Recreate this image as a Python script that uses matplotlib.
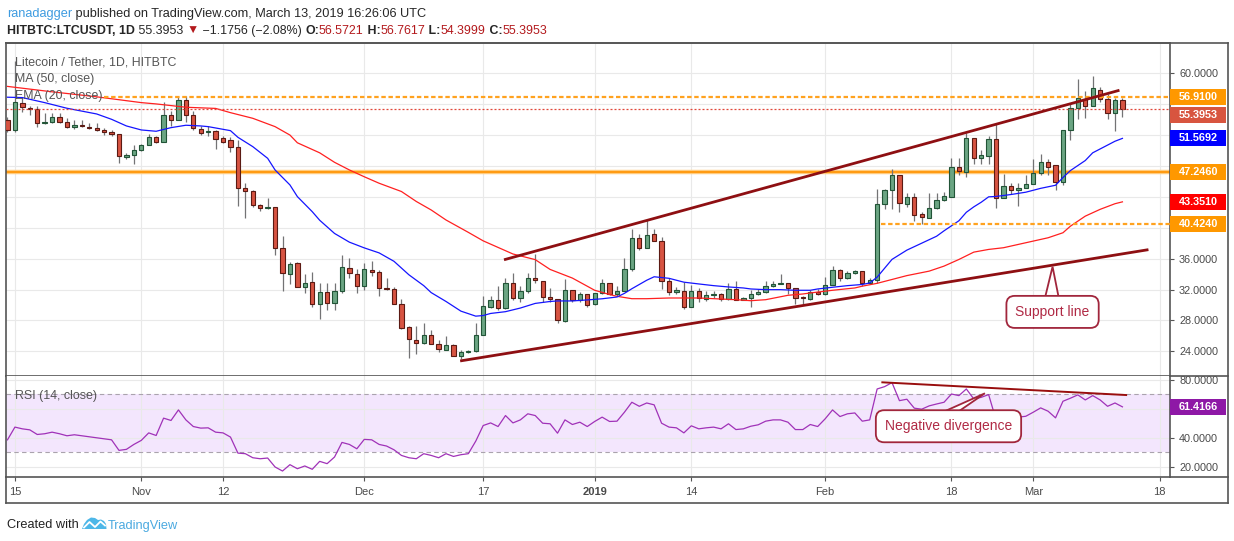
import numpy as np
import pandas as pd
import matplotlib
matplotlib.use("Agg")
import matplotlib.pyplot as plt
import matplotlib.dates as mdates
from matplotlib.patches import Rectangle, Polygon
from matplotlib.lines import Line2D

# ---------------------------------------------------------------- data
start_date = "2018-10-14"

opens = [54.0, 52.7, 56.1, 55.55, 55.35, 53.5, 53.65, 54.3, 53.65, 53.1,
         53.25, 53.1, 52.9, 52.6, 52.4, 52.15, 49.1, 49.4, 50.0, 50.7,
         51.75, 51.1, 54.6, 53.9, 56.5, 54.55, 52.8, 52.35, 52.5, 51.6,
         51.35, 50.4, 45.15, 44.7, 42.9, 42.5, 42.7, 37.35, 34.0, 35.4,
         32.3, 32.96, 30.09, 31.65, 30.2, 31.83, 34.8, 34.0, 32.4, 34.48,
         34.26, 32.17, 32.04, 30.09, 27.17, 25.52, 25.13, 26.17, 25.0, 24.22,
         24.87, 23.4, 23.9, 24.1, 26.17, 29.7, 30.65, 29.57, 32.9, 30.87,
         31.83, 33.48, 33.13, 31.0, 30.74, 27.96, 31.96, 30.65, 31.43, 30.1,
         31.5, 32.8, 31.43, 31.85, 34.7, 38.7, 37.4, 39.13, 38.27, 33.15,
         31.72, 31.77, 29.68, 31.85, 30.77, 31.25, 31.42, 30.77, 32.07, 30.68,
         30.9, 31.42, 31.72, 32.46, 32.72, 32.85, 32.2, 30.98, 30.8, 31.68,
         31.42, 32.55, 34.5, 33.5, 34.2, 34.45, 32.85, 33.2, 43.1, 44.84,
         46.88, 43.03, 43.98, 41.73, 41.3, 42.6, 43.55, 43.98, 47.91, 47.27,
         51.59, 49.08, 49.3, 51.46, 43.9, 45.4, 44.89, 45.1, 45.7, 47.14,
         48.56, 48.09, 45.97, 52.71, 55.44, 56.73, 55.7, 57.86, 56.73, 54.92,
         56.5721]
highs = [54.4, 61.6, 56.9, 55.8, 55.7, 54.8, 54.8, 54.8, 54.2, 53.95,
         54.0, 53.5, 53.6, 52.9, 52.6, 52.15, 49.65, 50.7, 50.9, 52.15,
         51.9, 56.25, 55.15, 57.05, 57.05, 55.1, 53.2, 53.2, 52.6, 51.85,
         51.7, 51.35, 45.75, 44.9, 43.05, 43.9, 42.7, 38.95, 35.6, 35.6,
         34.0, 34.26, 32.9, 32.9, 32.9, 36.5, 36.1, 34.65, 35.43, 35.65,
         34.48, 33.48, 32.3, 30.74, 27.26, 27.26, 27.6, 26.74, 25.43, 25.96,
         25.0, 24.22, 24.2, 27.6, 31.17, 31.17, 32.4, 33.48, 34.13, 32.4,
         34.2, 36.6, 33.13, 32.2, 30.74, 33.35, 31.96, 31.74, 31.43, 31.5,
         33.3, 32.8, 32.4, 36.1, 39.87, 39.13, 41.0, 39.87, 38.83, 33.5,
         32.33, 32.94, 32.6, 32.2, 31.77, 31.77, 31.55, 32.85, 33.15, 31.0,
         31.98, 32.07, 33.07, 33.07, 34.07, 32.85, 32.2, 31.1, 31.98, 32.07,
         33.63, 35.0, 34.7, 34.45, 34.5, 34.45, 33.45, 44.97, 44.97, 47.57,
         46.88, 44.5, 44.5, 42.1, 44.54, 44.54, 44.6, 49.08, 49.08, 52.32,
         51.59, 50.03, 51.89, 53.54, 46.9, 45.75, 45.75, 46.8, 48.95, 49.51,
         48.86, 48.09, 52.71, 56.2, 59.24, 57.73, 59.68, 58.16, 57.3, 56.76,
         56.7617]
lows = [52.45, 52.45, 54.95, 54.6, 53.1, 53.4, 53.5, 53.5, 52.96, 52.75,
        53.05, 52.8, 52.5, 52.0, 51.85, 48.35, 48.95, 48.2, 49.9, 50.7,
        50.95, 51.1, 53.2, 53.9, 53.75, 52.65, 51.95, 51.9, 50.15, 50.95,
        49.85, 42.85, 41.2, 42.7, 42.2, 42.4, 36.5, 31.85, 32.7, 32.3,
        31.5, 29.7, 28.13, 29.35, 29.4, 31.6, 33.5, 31.5, 31.96, 33.8,
        31.1, 32.0, 30.09, 26.95, 23.17, 23.7, 25.0, 25.0, 23.9, 24.13,
        23.4, 23.04, 23.8, 23.95, 26.17, 29.57, 29.35, 29.43, 30.65, 30.43,
        31.6, 32.9, 30.43, 30.43, 27.7, 27.83, 30.43, 30.43, 29.7, 29.96,
        31.4, 31.3, 31.2, 31.76, 34.45, 37.1, 37.4, 38.27, 32.07, 31.24,
        31.4, 29.5, 29.68, 30.38, 30.55, 30.9, 30.55, 30.68, 30.68, 30.6,
        29.73, 31.33, 31.55, 32.33, 32.72, 31.46, 30.12, 30.12, 30.6, 31.33,
        31.33, 32.55, 33.07, 33.4, 34.07, 32.4, 32.72, 32.85, 42.38, 42.38,
        42.03, 42.65, 40.87, 40.5, 41.3, 42.38, 43.5, 43.98, 46.8, 46.57,
        48.22, 48.22, 48.22, 42.6, 43.9, 44.33, 42.8, 45.1, 45.7, 46.8,
        46.8, 44.89, 45.54, 51.37, 54.05, 54.27, 55.7, 56.3, 54.14, 52.54,
        54.3999]
closes = [52.7, 56.24, 55.6, 55.35, 53.5, 53.7, 54.3, 53.65, 53.1, 53.25,
          53.12, 52.9, 52.6, 52.35, 52.15, 49.25, 49.4, 50.0, 50.7, 51.7,
          51.1, 54.6, 53.9, 56.5, 54.55, 52.9, 52.3, 52.5, 51.45, 51.15,
          50.4, 45.1, 44.7, 42.9, 42.5, 42.7, 37.35, 34.1, 35.3, 32.3,
          32.83, 30.09, 31.65, 30.2, 31.83, 34.9, 34.13, 32.4, 34.65, 34.26,
          32.17, 32.04, 30.09, 27.04, 25.65, 25.13, 26.17, 25.0, 24.35, 24.87,
          23.4, 23.91, 24.1, 26.17, 29.87, 30.65, 29.57, 32.9, 30.87, 31.83,
          33.48, 33.17, 31.0, 30.74, 28.04, 31.96, 30.65, 31.43, 30.0, 31.5,
          32.8, 31.43, 31.85, 34.7, 38.7, 37.4, 39.0, 38.27, 33.15, 31.68,
          31.9, 29.68, 31.85, 30.9, 31.24, 31.42, 30.77, 32.07, 30.68, 30.9,
          31.42, 31.72, 32.46, 32.76, 32.85, 32.2, 30.9, 30.86, 31.68, 31.42,
          32.55, 34.5, 33.5, 34.15, 34.37, 32.85, 33.28, 43.1, 44.84, 46.88,
          43.16, 43.98, 41.64, 41.38, 42.6, 43.55, 44.07, 47.91, 47.35, 51.59,
          49.08, 49.38, 51.46, 43.9, 45.4, 44.89, 45.19, 45.7, 47.14, 48.56,
          47.91, 45.97, 52.71, 55.44, 56.86, 55.7, 58.03, 56.73, 54.92, 56.5709,
          55.3953]

rsi = [38.6, 47.4, 46.2, 45.5, 42.3, 42.8, 43.9, 42.8, 41.4, 42.1,
       41.4, 40.7, 40.0, 39.3, 38.6, 31.3, 32.0, 35.4, 38.2, 43.4,
       41.6, 53.6, 52.0, 59.3, 52.4, 47.8, 46.7, 46.9, 43.9, 43.4,
       40.5, 29.4, 29.0, 26.2, 25.5, 26.0, 19.8, 17.0, 21.4, 18.6,
       20.5, 18.2, 23.7, 22.1, 26.7, 36.8, 35.4, 32.4, 38.9, 38.6,
       35.4, 34.3, 31.7, 27.8, 26.2, 25.5, 29.0, 27.8, 26.2, 29.0,
       27.1, 28.3, 29.0, 37.7, 48.5, 50.3, 47.8, 55.4, 50.3, 52.4,
       56.6, 55.4, 50.1, 49.7, 43.2, 52.4, 49.2, 50.8, 47.8, 51.3,
       54.3, 51.3, 51.5, 57.7, 64.6, 61.8, 64.1, 62.8, 50.1, 47.4,
       46.9, 43.4, 48.3, 46.2, 46.9, 47.4, 46.2, 49.7, 45.7, 46.2,
       48.0, 49.0, 51.5, 52.4, 52.4, 50.8, 45.7, 45.7, 49.2, 47.8,
       53.1, 59.3, 54.7, 56.6, 57.2, 51.5, 52.4, 73.8, 75.4, 78.2,
       65.7, 66.7, 60.5, 59.8, 62.1, 63.4, 64.6, 70.3, 69.2, 73.8,
       66.9, 68.0, 69.9, 52.4, 54.9, 53.8, 54.3, 54.9, 57.7, 60.7,
       58.4, 53.8, 65.3, 67.4, 69.7, 66.2, 69.2, 66.2, 61.8, 64.1,
       61.4166]

# moving averages (day offset from start_date, value)
ema_days = [0, 2, 5, 8, 12, 14, 16, 18, 20, 22, 24, 26, 27, 30, 31, 33, 35, 36, 38, 39,
            41, 42, 44, 46, 48, 50, 52, 54, 56, 57, 59, 61, 63, 64, 65, 67, 69, 71, 73, 74,
            76, 78, 80, 82, 83, 84, 86, 87, 89, 91, 93, 95, 97, 99, 100, 102, 104, 106, 108, 109,
            111, 113, 115, 116, 117, 119, 121, 123, 125, 126, 128, 129, 130, 131, 132, 133, 135, 137, 139, 141,
            142, 143, 145, 146, 148, 149, 150]
ema_vals = [56.9, 56.85, 56.2, 55.47, 54.73, 54.04, 53.18, 52.66, 52.49, 52.96,
            53.27, 53.18, 53.09, 52.57, 51.71, 50.5, 48.99, 47.48, 45.54, 44.03,
            42.08, 40.97, 39.26, 38.13, 37.39, 36.74, 35.65, 33.91, 32.5, 31.6,
            30.45, 29.2, 28.55, 28.63, 28.9, 29.13, 29.6, 30.2, 30.45, 30.52,
            30.52, 30.65, 30.8, 31.03, 31.5, 32.1, 33.2, 33.65, 33.45, 32.95,
            32.72, 32.5, 32.33, 32.2, 32.07, 31.98, 31.98, 31.9, 31.9, 32.07,
            32.29, 32.5, 32.65, 32.85, 33.6, 35.9, 37.1, 38.0, 38.9, 39.6,
            40.9, 42.0, 42.7, 43.3, 44.0, 44.05, 44.3, 44.6, 45.1, 45.5,
            46.5, 47.4, 48.7, 49.7, 50.7, 51.2, 51.5692]
ma_days = [0, 6, 12, 18, 20, 24, 28, 30, 33, 36, 38, 39, 42, 44, 46, 48, 50, 53, 55, 57,
           59, 62, 64, 68, 71, 73, 76, 79, 81, 82, 84, 86, 89, 93, 98, 100, 102, 105, 107, 108,
           111, 114, 115, 117, 119, 121, 124, 126, 128, 130, 132, 134, 136, 138, 140, 142, 143, 145, 147, 149,
           150]
ma_vals = [58.3, 57.6, 56.95, 56.2, 56.03, 55.6, 55.45, 54.9, 54.17, 53.09,
           52.0, 51.0, 49.7, 48.47, 47.48, 46.6, 45.76, 44.69, 43.4, 42.3,
           41.0, 39.4, 38.3, 36.6, 35.87, 34.6, 33.48, 31.9, 31.35, 31.12,
           30.81, 30.81, 30.9, 30.9, 30.68, 30.55, 30.68, 31.25, 31.42, 31.55,
           31.9, 32.2, 32.43, 32.8, 33.3, 33.8, 34.38, 35.03, 35.89, 36.84,
           37.19, 37.41, 37.84, 38.27, 38.7, 39.35, 40.2, 41.5, 42.38, 43.11,
           43.351]

# drawn horizontal levels
resist_level = 56.91
mid_level = 47.246
support_level = 40.424
resist_from_day = 13
support_from_day = 117.5

# drawn trendlines (day offset, price)
channel_days = [66.8, 149.6]
channel_prices = [35.85, 57.8]
support_days = [60.9, 153.5]
support_prices = [22.75, 37.16]
rsi_div_days = [117.7, 150.5]
rsi_div_vals = [78.4, 69.6]

# callout pointers (day offset, value): base-left, tip, base-right
support_ptr_days = [139.5, 140.6, 141.5]
support_ptr_vals = [30.6, 34.96, 30.6]
diverg_ptr_days = [125.5, 131.5, 127.6]
diverg_ptr_vals = [57.0, 70.8, 57.0]

tick_dates = ["2018-10-15", "2018-11-01", "2018-11-12", "2018-12-01", "2018-12-17",
              "2019-01-01", "2019-01-14", "2019-02-01", "2019-02-18", "2019-03-01", "2019-03-18"]
tick_labels = ["15", "Nov", "12", "Dec", "17", "2019", "14", "Feb", "18", "Mar", "18"]
price_ticks = [24, 28, 32, 36, 40, 44, 48, 52, 56, 60]
price_tick_shown = [24, 28, 32, 36, 60]
rsi_ticks = [20, 40, 60, 80]
rsi_tick_shown = [20, 40, 80]

# ---------------------------------------------------------------- style
plt.rcParams["font.family"] = ["Liberation Sans", "DejaVu Sans"]
W, H = 1234, 541
fig = plt.figure(figsize=(W / 100, H / 100), dpi=100)
fig.patch.set_facecolor("white")

def fx(px):
    return px / W

def fy(py):
    return 1 - py / H

L, R = 6, 1170
T1, B1, B2, FB, FR = 43, 376, 477.3, 503.3, 1228
FRAME = "#555555"
GRID = "#e9e9e9"

ax = fig.add_axes([fx(L), fy(B1), (R - L) / W, (B1 - T1) / H])
ax2 = fig.add_axes([fx(L), fy(B2), (R - L) / W, (B2 - B1) / H], sharex=ax)

base = mdates.date2num(pd.Timestamp(start_date))
n = len(closes)
xd = base + np.arange(n)

o, h, l, c = (np.array(v, dtype=float) for v in (opens, highs, lows, closes))
up = c >= o
body_lo = np.minimum(o, c)
body_h = np.maximum(np.abs(c - o), 0.07)

ax.vlines(xd, l, h, color="#737375", lw=0.9, zorder=3)
ax.bar(xd[up], body_h[up], bottom=body_lo[up], width=0.58, color="#6ba583",
       edgecolor="#225437", linewidth=0.8, zorder=4)
ax.bar(xd[~up], body_h[~up], bottom=body_lo[~up], width=0.58, color="#d75442",
       edgecolor="#5b1a13", linewidth=0.8, zorder=4)

ax.plot(base + np.array(ma_days), ma_vals, color="#ff2020", lw=0.9, zorder=5)
ax.plot(base + np.array(ema_days), ema_vals, color="#1515ff", lw=0.9, zorder=5)

xmin, xmax = base - 0.2, base + 156.4
ax.set_xlim(xmin, xmax)
ax.set_ylim(20.8, 63.92)

# levels
ax.plot([base + resist_from_day, xmax], [resist_level] * 2, color="#ffa21f",
        lw=1.6, ls=(0, (2.0, 1.2)), zorder=6)
ax.axhline(closes[-1], color="#e0473a", lw=0.9, ls=(0, (1.6, 1.6)), zorder=6)
ax.axhline(mid_level, color="#ffcc80", lw=3.2, zorder=2)
ax.axhline(mid_level, color="#ff9a10", lw=1.4, zorder=2)
ax.plot([base + support_from_day, xmax], [support_level] * 2, color="#ffa21f",
        lw=1.6, ls=(0, (2.0, 1.2)), zorder=6)

# trendlines
ax.plot(base + np.array(channel_days), channel_prices, color="#8e0f12", lw=2.0,
        solid_capstyle="butt", zorder=7)
ax.plot(base + np.array(support_days), support_prices, color="#8e0f12", lw=2.0,
        solid_capstyle="butt", zorder=7)

# grid / ticks main
ax.set_yticks(price_ticks)
ax.set_yticklabels([f"{v:.4f}" if v in price_tick_shown else "" for v in price_ticks])
ax.yaxis.tick_right()
ax.tick_params(axis="y", direction="out", length=3, width=0.8, color=FRAME,
               labelsize=7.8, labelcolor="#4a4a4a", pad=3.5)
ax.tick_params(axis="x", length=0, labelbottom=False)
tick_nums = [mdates.date2num(pd.Timestamp(d)) for d in tick_dates]
ax.set_xticks(tick_nums)
ax.grid(True, color=GRID, lw=0.8, zorder=0)
ax.set_axisbelow(True)
for s in ax.spines.values():
    s.set_color(FRAME)
    s.set_linewidth(1.2)

# ---------------------------------------------------------------- RSI
ax2.axhspan(30, 70, color="#f3e6fd", zorder=0.5, lw=0)
ax2.axhline(70, color="#aaa3ad", lw=0.8, ls=(0, (4, 3)), zorder=1)
ax2.axhline(30, color="#aaa3ad", lw=0.8, ls=(0, (4, 3)), zorder=1)
ax2.plot(xd, rsi, color="#a032b8", lw=0.9, zorder=4)
ax2.plot(base + np.array(rsi_div_days), rsi_div_vals, color="#990e0e", lw=1.4, zorder=5)
ax2.set_ylim(12.66, 82.77)
ax2.set_yticks(rsi_ticks)
ax2.set_yticklabels([f"{v:.4f}" if v in rsi_tick_shown else "" for v in rsi_ticks])
ax2.yaxis.tick_right()
ax2.tick_params(axis="y", direction="out", length=3, width=0.8, color=FRAME,
                labelsize=7.8, labelcolor="#4a4a4a", pad=3.5)
ax2.set_xticks(tick_nums)
ax2.set_xticklabels(tick_labels)
ax2.tick_params(axis="x", direction="out", length=3, width=0.8, color=FRAME,
                labelsize=8, labelcolor="#4a4a4a", pad=4)
ax2.get_xticklabels()[5].set_fontweight("bold")
ax2.grid(True, color=GRID, lw=0.8, zorder=0)
ax2.set_axisbelow(True)
for s in ax2.spines.values():
    s.set_color(FRAME)
    s.set_linewidth(1.2)
ax2.spines["top"].set_visible(False)

# ---------------------------------------------------------------- callouts
note_col = "#b02a45"
edge_col = "#a1263c"
box = dict(boxstyle="round,pad=0.65,rounding_size=0.6", fc="white", ec=edge_col, lw=1.3)
ax.add_patch(Polygon(list(zip(base + np.array(support_ptr_days), support_ptr_vals)), closed=True,
                     fc="white", ec=edge_col, lw=1.3, zorder=11, joinstyle="miter"))
ax.text(base + 140.6, 29.1, "Support line", ha="center", va="center", fontsize=10,
        color=note_col, zorder=12, bbox=box)
ax2.add_patch(Polygon(list(zip(base + np.array(diverg_ptr_days), diverg_ptr_vals)), closed=True,
                      fc="white", ec=edge_col, lw=1.3, zorder=11, joinstyle="miter"))
ax2.text(base + 126.6, 48.0, "Negative divergence", ha="center", va="center", fontsize=10,
         color=note_col, zorder=12, bbox=box)

# ---------------------------------------------------------------- frame
def fline(x0, y0, x1, y1, col=FRAME, lw=1.2):
    fig.add_artist(Line2D([fx(x0), fx(x1)], [fy(y0), fy(y1)], transform=fig.transFigure,
                          color=col, lw=lw, zorder=20))

fline(L, T1, FR, T1)
fline(R, B1, FR, B1)
fline(R, B2, FR, B2)
fline(FR, T1, FR, FB)
fline(L, FB, FR, FB)
fline(L, B2, L, FB)

# ---------------------------------------------------------------- price tags
def tag(axis, val, txt, color, dy=0.0):
    ypix = H - axis.transData.transform((xmin, val))[1] + dy
    fig.add_artist(Rectangle((fx(R), fy(ypix + 8)), 56 / W, 16 / H, transform=fig.transFigure,
                             fc=color, ec="none", zorder=21))
    fig.text(fx(1179), fy(ypix), txt, color="white", fontsize=7.8, fontweight="bold",
             ha="left", va="center", zorder=22)

tag(ax, resist_level, f"{resist_level:.4f}", "#ff9800")
tag(ax, closes[-1], f"{closes[-1]:.4f}", "#d8553f", dy=6.5)
tag(ax, ema_vals[-1], f"{ema_vals[-1]:.4f}", "#0000ff")
tag(ax, mid_level, f"{mid_level:.4f}", "#ff9800")
tag(ax, ma_vals[-1], f"{ma_vals[-1]:.4f}", "#ff0000")
tag(ax, support_level, f"{support_level:.4f}", "#ff9800")
tag(ax2, rsi[-1], f"{rsi[-1]:.4f}", "#8e18a6")

# ---------------------------------------------------------------- texts
fig.canvas.draw()
rend = fig.canvas.get_renderer()

def text_row(x0, ybase, pieces, size):
    x = x0
    for s, col, wt in pieces:
        t = fig.text(fx(x), fy(ybase), s, color=col, fontsize=size, fontweight=wt,
                     ha="left", va="baseline", zorder=25)
        x += t.get_window_extent(renderer=rend).width

dark = "#262626"
red = "#b3191c"
chg = closes[-1] - closes[-2]
pct = chg / closes[-2] * 100
text_row(7, 17, [("ranadagger", "#3d9be0", "normal"),
                 (" published on TradingView.com, March 13, 2019 16:26:06 UTC", dark, "normal")], 9.15)
text_row(7, 34, [("HITBTC:LTCUSDT, 1D", dark, "bold"),
                 (f" {closes[-1]:.4f} ", dark, "normal"),
                 ("\u25bc", red, "normal"),
                 (f" \u2212{abs(chg):.4f} (\u2212{abs(pct):.2f}%) ", dark, "normal"),
                 ("O:", dark, "bold"), (f"{opens[-1]:.4f}", red, "normal"),
                 (" H:", dark, "bold"), (f"{highs[-1]:.4f}", red, "normal"),
                 (" L:", dark, "bold"), (f"{lows[-1]:.4f}", red, "normal"),
                 (" C:", dark, "bold"), (f"{closes[-1]:.4f}", red, "normal")], 8.9)

legend_col = "#555555"
for txt, yb in [("Litecoin / Tether, 1D, HITBTC", 65.5), ("MA (50, close)", 82.3),
                ("EMA (20, close)", 99.0)]:
    fig.text(fx(15), fy(yb), txt, color=legend_col, fontsize=8.9, ha="left", va="baseline", zorder=25)
fig.text(fx(15), fy(398.5), "RSI (14, close)", color=legend_col, fontsize=8.9,
         ha="left", va="baseline", zorder=25)

# footer
fig.text(fx(7), fy(528.5), "Created with", color="#222222", fontsize=9.2, ha="left", va="baseline")
logo = [(82, 529), (84, 524), (87, 520), (91, 517.5), (95, 518), (98, 520), (101, 519.5),
        (104, 521), (106, 524), (106.5, 529)]
fig.add_artist(Polygon([(fx(a), fy(b)) for a, b in logo], closed=True, transform=fig.transFigure,
                       fc="#4db7e8", ec="none", zorder=26))
zig = [(84, 527.5), (89.5, 522), (95, 527), (100.5, 521.5), (105, 525.5)]
fig.add_artist(Line2D([fx(a) for a, b in zig], [fy(b) for a, b in zig], transform=fig.transFigure,
                      color="white", lw=1.3, zorder=27))
fig.text(fx(107.5), fy(528.5), "TradingView", color="#4aa9e0", fontsize=9.2, ha="left", va="baseline")

fig.savefig("out.png", dpi=100, facecolor="white")
